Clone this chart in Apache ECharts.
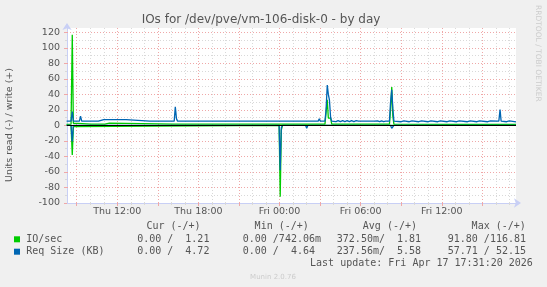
<!DOCTYPE html>
<html><head><meta charset="utf-8">
<script src="https://cdn.jsdelivr.net/npm/echarts@6/dist/echarts.min.js"></script>
<style>html,body{margin:0;padding:0;background:#f0f0f0;}#c{width:547px;height:287px;}</style>
</head><body><div id="c"></div>
<script>
// ---------------- data ----------------
const chartTitle = 'IOs for /dev/pve/vm-106-disk-0 - by day';
const yAxisTitle = 'Units read (-) / write (+)';
const xStart = 8.28, xEnd = 41.49;             // hours since Thu 00:00
const xTickHours = [12, 18, 24, 30, 36];
const xTickLabels = ['Thu 12:00', 'Thu 18:00', 'Fri 00:00', 'Fri 06:00', 'Fri 12:00'];
const yMin = -100, yMax = 120, yMajor = 20, yMinor = 10;

const ioWriteHours = [8.25, 8.58, 8.67, 8.75, 8.83, 8.92, 9.08, 9.17, 10.08, 10.17, 10.25, 10.67, 10.75, 10.83, 11.08, 11.17, 11.42, 11.5, 16.21, 16.29, 16.38, 27.36, 27.44, 27.53, 27.61, 27.69, 27.78, 27.86, 32.13, 32.21, 32.3, 32.38, 32.46, 41.49];
const ioWriteVals  = [1.5, 1.6, 116.8, 2.8, 2.0, 2.8, 2.8, 1.6, 1.6, 3.0, 1.6, 1.6, 3.0, 1.6, 1.6, 3.0, 3.0, 1.6, 1.6, 2.8, 1.6, 1.6, 4.0, 33.0, 9.5, 9.5, 9.5, 1.6, 1.6, 20.0, 49.5, 12.0, 1.6, 1.2];

const ioReadHours = [8.25, 8.58, 8.67, 8.75, 8.83, 23.97, 24.05, 24.13, 24.22, 25.93, 26.01, 26.09, 32.21, 32.3, 32.38, 41.49];
const ioReadVals  = [0, 0, -38, -1.5, 0, 0, -91.8, -6, 0, 0, -1, 0, 0, -1.5, 0, 0];

const reqWriteHours = [8.25, 8.58, 8.67, 8.75, 9.2, 9.28, 9.37, 10.6, 10.68, 11.0, 11.09, 11.17, 11.75, 11.83, 11.92, 12.33, 12.42, 12.5, 12.65, 12.73, 14.4, 14.49, 14.57, 16.21, 16.29, 16.38, 16.46, 17.42, 17.5, 17.58, 19.82, 19.9, 19.98, 20.55, 20.63, 20.71, 25.93, 26.01, 26.09, 26.86, 26.94, 27.02, 27.36, 27.44, 27.53, 27.61, 27.69, 27.78, 27.86, 28.0, 28.17, 28.33, 28.5, 28.67, 28.83, 29.0, 29.17, 29.33, 29.5, 29.67, 29.83, 31.0, 31.1, 31.25, 31.4, 31.55, 31.7, 31.85, 32.13, 32.21, 32.3, 32.38, 32.46, 33.0, 33.2, 33.6, 33.8, 34.3, 34.5, 35.0, 35.2, 35.7, 35.9, 36.4, 36.6, 37.1, 37.3, 37.9, 38.1, 38.6, 38.8, 39.4, 39.6, 40.22, 40.31, 40.39, 40.8, 41.0, 41.49];
const reqWriteVals  = [5.6, 5.6, 17.8, 5.6, 5.6, 12, 5.6, 5.6, 7.6, 7.6, 5.6, 7.6, 7.6, 5.6, 7.6, 7.6, 5.6, 7.6, 7.6, 5.6, 5.6, 4.2, 5.6, 5.6, 24, 8.5, 5.6, 5.6, 4.4, 5.6, 5.6, 7.2, 5.6, 5.6, 7.2, 5.6, 5.6, 8, 5.6, 5.6, 8.5, 5.6, 5.6, 20, 52.2, 40, 33, 10, 5.6, 6.2, 4.9, 6.2, 4.9, 6.2, 4.9, 6.2, 4.9, 6.2, 4.9, 6.2, 5.6, 5.6, 4.9, 6.0, 4.9, 6.0, 5.0, 5.6, 5.6, 30, 46, 22, 5.6, 4.8, 5.8, 4.8, 5.8, 4.8, 5.8, 4.8, 5.8, 4.8, 5.8, 4.8, 5.8, 4.8, 5.8, 4.8, 5.8, 4.8, 5.8, 4.8, 5.8, 5.6, 20.4, 5.6, 4.8, 5.8, 4.7];

const reqReadHours = [8.25, 8.58, 8.67, 8.75, 23.97, 24.05, 24.13, 24.22, 25.93, 26.01, 26.09, 32.21, 32.3, 32.38, 32.46, 41.49];
const reqReadVals  = [0, 0, -20.5, 0, 0, -57.7, -3, 0, 0, -3.6, 0, 0, -3.6, -1.5, 0, 0];

const legendNames  = ['IO/sec', 'Req Size (KB)'];
const legendColors = ['#00cc00', '#0066b3'];
const statHeaders  = ['Cur (-/+)', 'Min (-/+)', 'Avg (-/+)', 'Max (-/+)'];
const curStats = ['0.00 /  1.21', '0.00 /  4.72'];
const minStats = ['0.00 /742.06m', '0.00 /  4.64 '];
const avgStats = ['372.50m/  1.81', '237.56m/  5.58'];
const maxStats = ['91.80 /116.81', '57.71 / 52.15'];
const lastUpdate = 'Last update: Fri Apr 17 17:31:20 2026';
const muninVersion = 'Munin 2.0.76';
const watermark = 'RRDTOOL / TOBI OETIKER';

// ---------------- layout ----------------
const W = 547, H = 287;
const plotL = 67, plotR = 516, plotT = 28, plotB = 203, y120 = 32.4;
const pxPerH = (plotR - plotL) / (xEnd - xStart);
const hx = h => plotL + (h - xStart) * pxPerH;
const txt = '#555';
const axisCol = '#c8cff5';
const gridGray = '#d9d9d9';
const gridRed = '#efa8a8';
const sans = '"DejaVu Sans", sans-serif';
const mono = '"DejaVu Sans Mono", monospace';
const zip = (a, b) => a.map((t, i) => [t, b[i]]);

const hidden = {show: false};
const graphics = [];
graphics.push({type: 'text', x: 261, y: 20, style: {text: chartTitle, fill: txt, fontSize: 12, fontFamily: sans, textAlign: 'center', textVerticalAlign: 'middle'}});
graphics.push({type: 'text', x: 10, y: 125, rotation: Math.PI / 2, style: {text: yAxisTitle, fill: txt, fontSize: 9.5, fontFamily: sans, textAlign: 'center', textVerticalAlign: 'middle'}});
graphics.push({type: 'text', x: 537.5, y: 5, rotation: -Math.PI / 2, style: {text: watermark, fill: '#cccccc', fontSize: 7.5, fontFamily: sans, textAlign: 'left', textVerticalAlign: 'middle'}});
const headRight = [200.6, 308.8, 417, 525.8];
statHeaders.forEach((h, i) => graphics.push({type: 'text', x: headRight[i], y: 226.7, style: {text: h, fill: txt, fontSize: 10, fontFamily: mono, textAlign: 'right', textVerticalAlign: 'middle'}}));
const rowY = [239.3, 251.7];
const colRight = [209.4, 321, 421.1, 526];
const cols = [curStats, minStats, avgStats, maxStats];
legendNames.forEach((n, r) => {
  graphics.push({type: 'rect', shape: {x: 14, y: rowY[r] - 3, width: 6, height: 6}, style: {fill: legendColors[r]}});
  graphics.push({type: 'text', x: 26.2, y: rowY[r], style: {text: n, fill: txt, fontSize: 10, fontFamily: mono, textAlign: 'left', textVerticalAlign: 'middle'}});
  cols.forEach((c, i) => graphics.push({type: 'text', x: colRight[i], y: rowY[r], style: {text: c[r], fill: txt, fontSize: 10, fontFamily: mono, textAlign: 'right', textVerticalAlign: 'middle'}}));
});
graphics.push({type: 'text', x: 532.8, y: 263.3, style: {text: lastUpdate, fill: txt, fontSize: 10, fontFamily: mono, textAlign: 'right', textVerticalAlign: 'middle'}});
graphics.push({type: 'text', x: 273, y: 277, style: {text: muninVersion, fill: '#cccccc', fontSize: 7, fontFamily: sans, textAlign: 'center', textVerticalAlign: 'middle'}});

const lineSeries = (data, color, extra) => Object.assign({
  type: 'line', xAxisIndex: 1, yAxisIndex: 1, data, showSymbol: false, symbol: 'none',
  lineStyle: {color, width: 1.3}, itemStyle: {color}, animation: false, clip: true, z: 3
}, extra || {});

const option = {
  backgroundColor: '#f0f0f0',
  animation: false,
  grid: [
    {left: plotL, right: W - plotR, top: plotT, bottom: H - plotB, show: true, backgroundColor: '#ffffff', borderWidth: 0, z: -1},
    {left: plotL, right: W - plotR, top: y120, bottom: H - plotB},
    {left: hx(9), right: W - hx(41), top: plotT, bottom: H - plotB},
    {left: hx(9), right: W - hx(39), top: plotT, bottom: H - plotB}
  ],
  xAxis: [
    {gridIndex: 0, type: 'value', min: 0, max: 1, position: 'bottom', axisTick: hidden, axisLabel: hidden, splitLine: hidden,
      axisLine: {show: true, symbol: ['none', 'arrow'], symbolSize: [7, 7], symbolOffset: [0, 5], lineStyle: {color: axisCol, width: 1}}},
    {gridIndex: 1, type: 'value', min: xStart, max: xEnd, show: false},
    {gridIndex: 2, type: 'value', min: 9, max: 41, interval: 1, position: 'bottom', axisLine: hidden, axisLabel: hidden,
      axisTick: {show: true, length: 2, lineStyle: {color: gridGray}},
      splitLine: {show: true, lineStyle: {color: gridGray, width: 1, type: [1, 2]}}},
    {gridIndex: 3, type: 'value', min: 9, max: 39, interval: 3, position: 'bottom', z: 1, axisLine: hidden,
      axisTick: {show: true, length: 3, lineStyle: {color: gridRed}},
      axisLabel: {show: true, margin: 4, fontSize: 9.5, fontFamily: sans, color: txt,
        formatter: v => { const i = xTickHours.indexOf(Math.round(v)); return i >= 0 ? xTickLabels[i] : ''; }},
      splitLine: {show: true, lineStyle: {color: gridRed, width: 1, type: [1, 2]}}}
  ],
  yAxis: [
    {gridIndex: 0, type: 'value', min: 0, max: 1, position: 'left', axisTick: hidden, axisLabel: hidden, splitLine: hidden,
      axisLine: {show: true, symbol: ['none', 'arrow'], symbolSize: [7, 7], symbolOffset: [0, 5], lineStyle: {color: axisCol, width: 1}}},
    {gridIndex: 1, type: 'value', min: yMin, max: yMax, interval: yMinor, position: 'left', axisLine: hidden, axisLabel: hidden,
      axisTick: {show: true, length: 2, lineStyle: {color: gridGray}},
      splitLine: {show: true, showMinLine: false, lineStyle: {color: gridGray, width: 1, type: [1, 2]}}},
    {gridIndex: 1, type: 'value', min: yMin, max: yMax, interval: yMajor, position: 'left', z: 1, axisLine: hidden,
      axisTick: {show: true, length: 3, lineStyle: {color: gridRed}},
      axisLabel: {show: true, margin: 7, fontSize: 9.5, fontFamily: sans, color: txt},
      splitLine: {show: true, showMinLine: false, lineStyle: {color: gridRed, width: 1, type: [1, 2]}}},
    {gridIndex: 2, type: 'value', min: 0, max: 1, show: false},
    {gridIndex: 3, type: 'value', min: 0, max: 1, show: false}
  ],
  series: [
    lineSeries(zip(ioReadHours, ioReadVals), legendColors[0]),
    lineSeries(zip(ioWriteHours, ioWriteVals), legendColors[0]),
    lineSeries(zip(reqReadHours, reqReadVals), legendColors[1]),
    lineSeries(zip(reqWriteHours, reqWriteVals), legendColors[1], {
      markLine: {silent: true, symbol: 'none', animation: false, label: {show: false},
        lineStyle: {color: '#000000', width: 1, type: 'solid'}, data: [{yAxis: 0}]}
    })
  ],
  graphic: graphics
};
const chart = echarts.init(document.getElementById('c'), null, {renderer: 'canvas'});
chart.setOption(option);
</script></body></html>
